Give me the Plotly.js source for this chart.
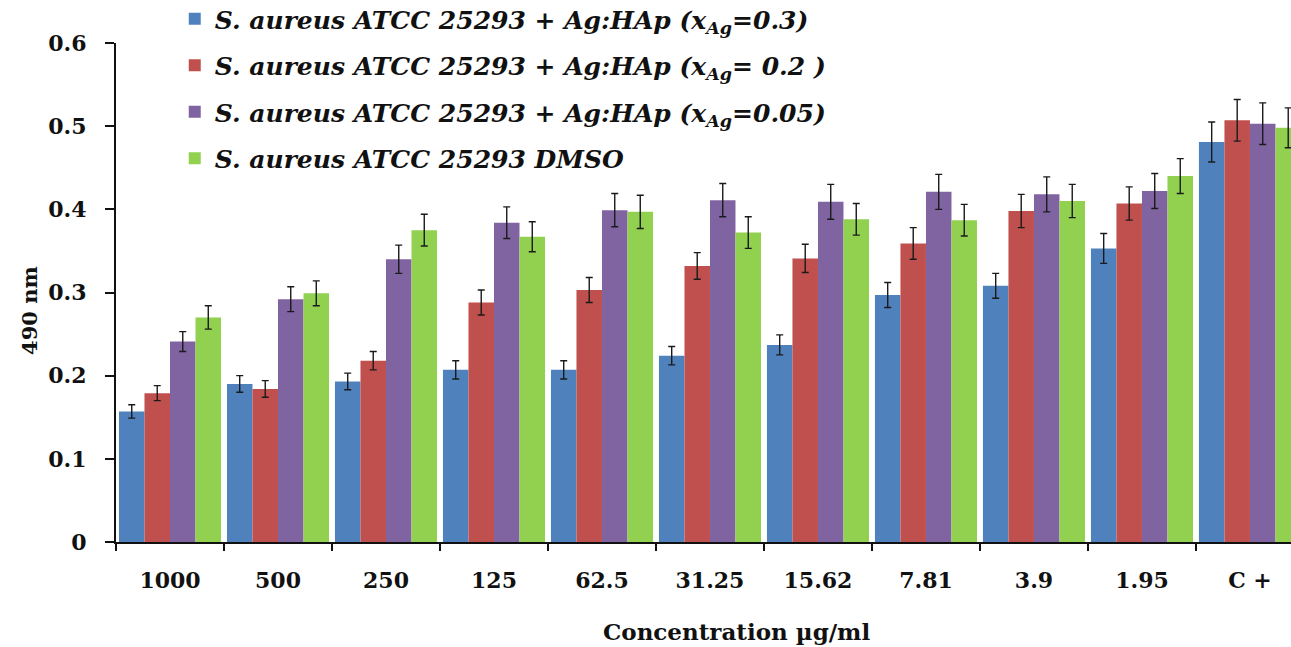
<!DOCTYPE html>
<html>
<head>
<meta charset="utf-8">
<script src="https://cdn.plot.ly/plotly-3.0.1.min.js"></script>
<style>html,body{margin:0;padding:0;background:#fff;}#chart{width:1291px;height:647px;}</style>
</head>
<body>
<div id="chart"></div>
<script>
var categories = ["1000", "500", "250", "125", "62.5", "31.25", "15.62", "7.81", "3.9", "1.95", "C +"];

var seriesNames = [
  "S. aureus ATCC 25293 + Ag:HAp (x<sub>Ag</sub>=0.3)",
  "S. aureus ATCC 25293 + Ag:HAp (x<sub>Ag</sub>= 0.2 )",
  "S. aureus ATCC 25293 + Ag:HAp (x<sub>Ag</sub>=0.05)",
  "S. aureus ATCC 25293 DMSO"
];

var ag03   = [0.157, 0.190, 0.193, 0.207, 0.207, 0.224, 0.237, 0.297, 0.308, 0.353, 0.481];
var ag02   = [0.179, 0.184, 0.218, 0.288, 0.303, 0.332, 0.341, 0.359, 0.398, 0.407, 0.507];
var ag005  = [0.241, 0.292, 0.340, 0.384, 0.399, 0.411, 0.409, 0.421, 0.418, 0.422, 0.503];
var dmso   = [0.270, 0.299, 0.375, 0.367, 0.397, 0.372, 0.388, 0.387, 0.410, 0.440, 0.498];

var ag03Err  = [0.008, 0.010, 0.010, 0.011, 0.011, 0.011, 0.012, 0.015, 0.015, 0.018, 0.024];
var ag02Err  = [0.009, 0.010, 0.011, 0.015, 0.015, 0.016, 0.017, 0.019, 0.020, 0.020, 0.025];
var ag005Err = [0.012, 0.015, 0.017, 0.019, 0.020, 0.020, 0.021, 0.021, 0.021, 0.021, 0.025];
var dmsoErr  = [0.014, 0.015, 0.019, 0.018, 0.020, 0.019, 0.019, 0.019, 0.020, 0.021, 0.024];

var colors = ["#4F81BD", "#C0504D", "#8064A2", "#92D050"];
var values = [ag03, ag02, ag005, dmso];
var errors = [ag03Err, ag02Err, ag005Err, dmsoErr];

var serif = "DejaVu Serif";

var traces = values.map(function (v, i) {
  return {
    type: "bar",
    name: seriesNames[i],
    x: categories,
    y: v,
    legendgroup: "g" + i,
    marker: { color: colors[i], line: { width: 0 } },
    error_y: { type: "data", array: errors[i], visible: true, color: "#1a1a1a", thickness: 1.4, width: 3.5 }
  };
});

var layout = {
  width: 1291,
  height: 647,
  margin: { l: 116, r: 0, t: 43, b: 105, autoexpand: false },
  paper_bgcolor: "#ffffff",
  plot_bgcolor: "#ffffff",
  font: { family: serif },
  barmode: "group",
  bargap: 0.055,
  bargroupgap: 0,
  showlegend: true,
  legend: {
    x: 0.05, y: 1.094, xanchor: "left", yanchor: "top",
    bgcolor: "rgba(0,0,0,0)",
    font: { family: serif, size: 25, color: "#111", style: "italic", weight: "bold" },
    tracegroupgap: 11,
    itemwidth: 30
  },
  xaxis: {
    type: "category",
    range: [-0.5, 10.38],
    showline: true, linecolor: "#111", linewidth: 2,
    ticks: "outside", tickson: "boundaries", ticklen: 7, tickwidth: 2, tickcolor: "#111",
    showgrid: false, zeroline: false,
    tickfont: { family: serif, size: 22, color: "#111", weight: "bold" },
    ticklabelstandoff: 18,
    automargin: false
  },
  yaxis: {
    range: [0, 0.6],
    tickvals: [0, 0.1, 0.2, 0.3, 0.4, 0.5, 0.6],
    ticktext: ["0", "0.1", "0.2", "0.3", "0.4", "0.5", "0.6"],
    showline: true, linecolor: "#111", linewidth: 2,
    ticks: "outside", ticklen: 9, tickwidth: 2, tickcolor: "#111",
    showgrid: false, zeroline: false,
    tickfont: { family: serif, size: 22, color: "#111", weight: "bold" },
    ticklabelstandoff: 14,
    automargin: false
  },
  annotations: [{
    text: "Concentration µg/ml",
    xref: "paper", yref: "paper",
    x: 0.528, y: -0.18, xanchor: "center", yanchor: "middle",
    showarrow: false,
    font: { family: serif, size: 23, color: "#111", weight: "bold" }
  }, {
    text: "490 nm",
    xref: "paper", yref: "paper",
    x: -0.0732, y: 0.465, xanchor: "center", yanchor: "middle",
    textangle: -90,
    showarrow: false,
    font: { family: serif, size: 21, color: "#111", weight: "bold" }
  }]
};

Plotly.newPlot("chart", traces, layout, { displayModeBar: false, staticPlot: true });
</script>
</body>
</html>
